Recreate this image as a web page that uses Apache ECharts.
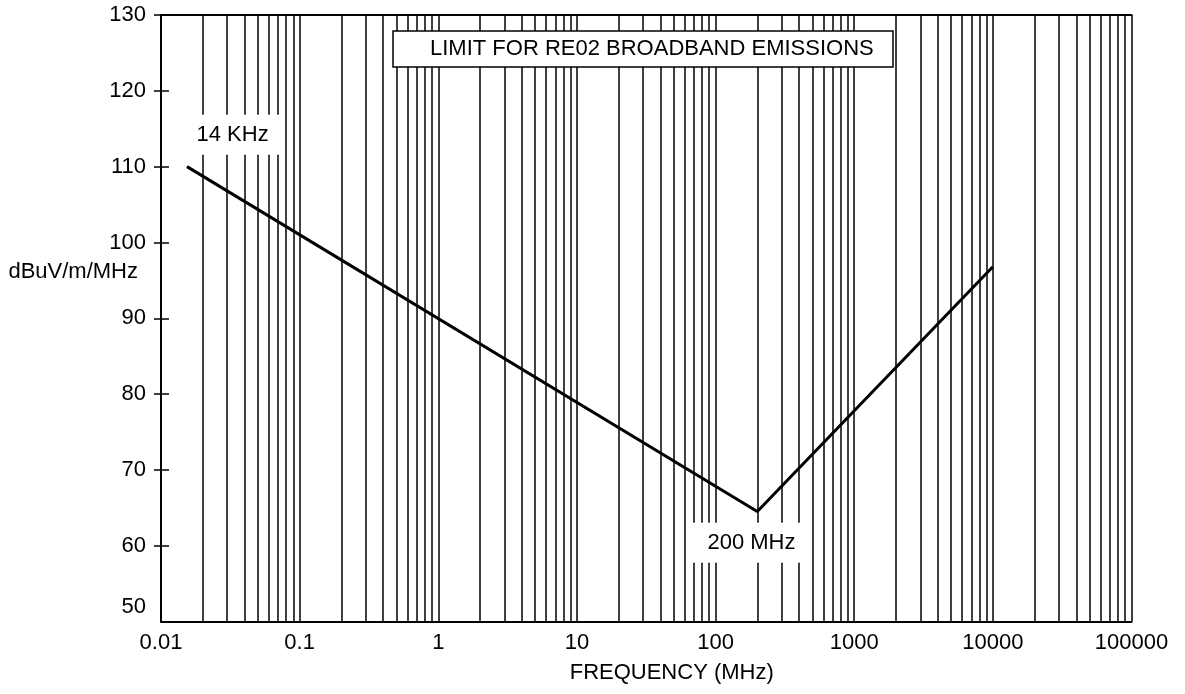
<!DOCTYPE html>
<html>
<head>
<meta charset="utf-8">
<script src="https://cdn.jsdelivr.net/npm/echarts@6/dist/echarts.min.js"></script>
<style>
  html, body { margin: 0; padding: 0; background: #fff; }
  #chart { width: 1185px; height: 694px; }
</style>
</head>
<body>
<div id="chart"></div>
<script>
// ---- data ----
const freqMHz = [0.0154, 200, 10000];
const limitDb = [110, 64.5, 96.8];
const xTickLabels = ['0.01', '0.1', '1', '10', '100', '1000', '10000', '100000'];
const yTickValues = [50, 60, 70, 80, 90, 100, 110, 120, 130];
const decadeStarts = [0.01, 0.1, 1, 10, 100, 1000, 10000];
const decadeMultipliers = [1, 2, 3, 4, 5, 6, 7, 8, 9];
const titleText = 'LIMIT FOR RE02 BROADBAND EMISSIONS';
const xName = 'FREQUENCY (MHz)';
const yName = 'dBuV/m/MHz';
const startLabel = { text: '14 KHz', freq: 0.0345, db: 114.2 };
const vertexLabel = { text: '200 MHz', freq: 167, db: 60.4 };

// ---- build ----
const FONT = '"Liberation Sans", Arial, Helvetica, sans-serif';
const gridFreqs = [];
decadeStarts.forEach(d => decadeMultipliers.forEach(m => gridFreqs.push(+(d * m).toPrecision(6))));
gridFreqs.push(100000);

const chart = echarts.init(document.getElementById('chart'), null, { renderer: 'canvas' });

const xBase = {
  type: 'log', logBase: 10, min: 0.01, max: 100000,
  splitLine: { show: false }, minorTick: { show: false }
};
const yBase = { type: 'value', min: 50, max: 130, interval: 10, splitLine: { show: false } };

chart.setOption({
  animation: false,
  backgroundColor: '#fff',
  textStyle: { fontFamily: FONT, color: '#000' },
  title: {
    text: titleText,
    left: 393, top: 31,
    padding: [7, 20, 7, 37],
    borderColor: '#000', borderWidth: 1.5,
    backgroundColor: '#fff',
    textStyle: { fontFamily: FONT, fontSize: 22, fontWeight: 'normal', color: '#000' }
  },
  grid: { left: 161, right: 53.5, top: 15, bottom: 72.5, containLabel: false, outerBoundsMode: 'none' },
  xAxis: [
    Object.assign({}, xBase, {
      position: 'bottom',
      name: xName, nameLocation: 'middle', nameGap: 51.5, nameMoveOverlap: false,
      nameTextStyle: { fontFamily: FONT, fontSize: 22, color: '#000', align: 'center', verticalAlign: 'middle', padding: [0, 0, 0, 51] },
      axisLine: { show: true, lineStyle: { color: '#000', width: 2 } },
      axisTick: { show: false },
      axisLabel: {
        show: true, fontFamily: FONT, fontSize: 22, color: '#000', margin: 10,
        showMinLabel: true, showMaxLabel: true,
        formatter: v => {
          const e = Math.log10(v);
          if (Math.abs(e - Math.round(e)) > 1e-6) return '';
          return xTickLabels[Math.round(e) + 2] || '';
        }
      }
    }),
    Object.assign({}, xBase, {
      position: 'top',
      axisLine: { show: true, onZero: false, lineStyle: { color: '#000', width: 2 } },
      axisTick: { show: false },
      axisLabel: { show: false }
    })
  ],
  yAxis: [
    Object.assign({}, yBase, {
      position: 'left',
      name: yName, nameLocation: 'middle', nameRotate: 0, nameGap: 23, nameMoveOverlap: false,
      nameTextStyle: {
        fontFamily: FONT, fontSize: 22, color: '#000', align: 'right', verticalAlign: 'bottom',
        lineHeight: 93
      },
      axisLine: { show: true, onZero: false, lineStyle: { color: '#000', width: 2 } },
      axisTick: { show: true, inside: false, length: 7, lineStyle: { color: '#000', width: 1.5 },
                  customValues: yTickValues.filter(v => v !== 50) },
      axisLabel: {
        show: true, fontFamily: FONT, fontSize: 22, color: '#000', margin: 15,
        customValues: yTickValues,
        formatter: v => (v === 50 ? '{up|' + v + '}' : String(v)),
        rich: { up: { fontFamily: FONT, fontSize: 22, color: '#000', padding: [0, 0, 30, 0] } }
      }
    }),
    Object.assign({}, yBase, {
      position: 'left',
      axisLine: { show: false },
      axisTick: { show: true, inside: true, length: 8, lineStyle: { color: '#000', width: 1.5 },
                  customValues: yTickValues.filter(v => v !== 50) },
      axisLabel: { show: false }
    })
  ],
  series: [
    {
      name: 'grid',
      type: 'line',
      xAxisIndex: 0, yAxisIndex: 0,
      data: [],
      silent: true,
      z: 1,
      markLine: {
        silent: true,
        symbol: ['none', 'none'],
        label: { show: false },
        emphasis: { disabled: true },
        lineStyle: { color: '#000', width: 1.5, type: 'solid' },
        data: gridFreqs.map(f => ({ xAxis: f }))
      }
    },
    {
      name: 'limit',
      type: 'line',
      xAxisIndex: 0, yAxisIndex: 0,
      data: freqMHz.map((f, i) => [f, limitDb[i]]),
      symbol: 'none',
      z: 3,
      lineStyle: { color: '#000', width: 3 },
      emphasis: { disabled: true },
      markPoint: {
        silent: true,
        symbol: 'rect', symbolSize: 0,
        data: [
          { coord: [startLabel.freq, startLabel.db], value: startLabel.text,
            label: { padding: [9, 13, 9, 7] } },
          { coord: [vertexLabel.freq, vertexLabel.db], value: vertexLabel.text,
            label: { padding: [9, 9, 9, 19] } }
        ],
        label: {
          show: true, position: 'inside',
          formatter: p => p.value,
          fontFamily: FONT, fontSize: 22, color: '#000',
          backgroundColor: '#fff'
        }
      }
    }
  ]
});
</script>
</body>
</html>
